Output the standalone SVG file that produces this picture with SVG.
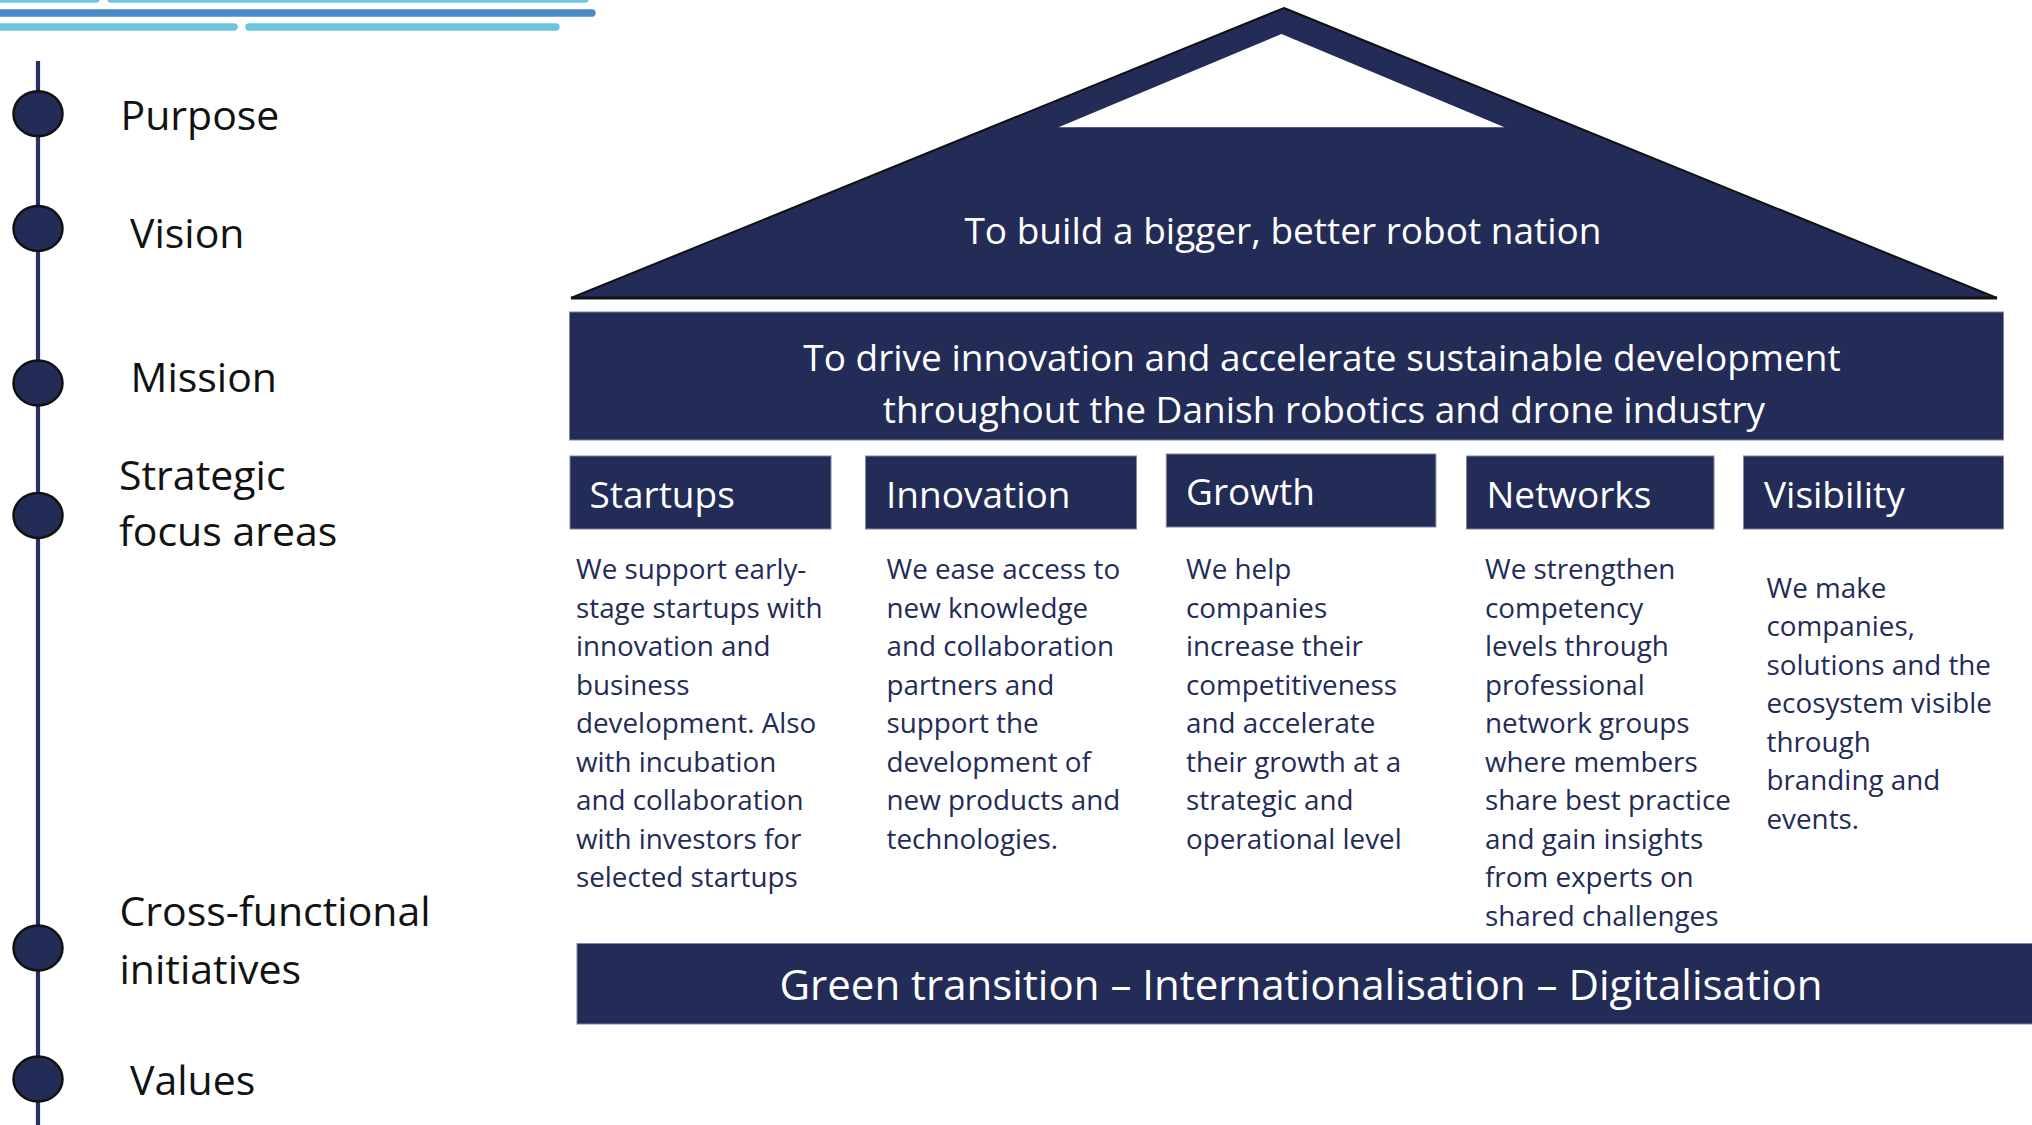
<svg xmlns="http://www.w3.org/2000/svg" width="2032" height="1125" viewBox="0 0 2032 1125">
<style>
text{font-family:"Open Sans","Noto Sans","Liberation Sans",sans-serif}
.lbl{font-size:41px;fill:#121212}
.box{fill:#232B57;stroke:#7f84a0;stroke-width:1}
.hdr{font-size:37px;fill:#ffffff}
.big{font-size:37px;fill:#ffffff}
.desc{font-size:27.8px;fill:#232B57}
.dot{fill:#232B57;stroke:#111111;stroke-width:2.5}
.deco1{stroke:#6cc6e0;stroke-width:7.4;stroke-linecap:round}
.deco2{stroke:#4a8ac8;stroke-width:7.4;stroke-linecap:round}
</style>
<rect width="2032" height="1125" fill="#ffffff"/>
<g id="decoration">
<line class="deco1" x1="-10" y1="-1" x2="96" y2="-1"/>
<line class="deco1" x1="111" y1="-1" x2="585" y2="-1"/>
<line class="deco2" x1="-10" y1="13" x2="592" y2="13"/>
<line class="deco1" x1="-10" y1="27" x2="234" y2="27"/>
<line class="deco1" x1="249" y1="27" x2="556" y2="27"/>
</g>
<g id="connectors">
<line x1="38" y1="61" x2="38" y2="1125" stroke="#283262" stroke-width="4.2"/>
</g>
<g id="purpose">
<ellipse class="dot" cx="38" cy="113.7" rx="24.5" ry="22.5"/>
<text class="lbl" x="120.5" y="130">Purpose</text>
</g>
<g id="vision">
<ellipse class="dot" cx="38" cy="228.5" rx="24.5" ry="22.5"/>
<text class="lbl" x="130" y="248">Vision</text>
</g>
<g id="mission">
<ellipse class="dot" cx="38" cy="383" rx="24.5" ry="22.5"/>
<text class="lbl" x="130.5" y="392">Mission</text>
</g>
<g id="strategic">
<ellipse class="dot" cx="38" cy="515.5" rx="24.5" ry="22.5"/>
<text class="lbl" x="119" y="489.5">Strategic</text>
<text class="lbl" x="119" y="546">focus areas</text>
</g>
<g id="crossfunctional">
<ellipse class="dot" cx="38" cy="948" rx="24.5" ry="22.5"/>
<text class="lbl" x="119.5" y="926">Cross-functional</text>
<text class="lbl" x="119.5" y="983.5">initiatives</text>
</g>
<g id="values">
<ellipse class="dot" cx="38" cy="1079" rx="24.5" ry="22.5"/>
<text class="lbl" x="130" y="1095">Values</text>
</g>
<g id="roof">
<polygon points="1284,8 1997,298 571,298" fill="#232B57" stroke="#111111" stroke-width="2" stroke-linejoin="miter"/>
<line x1="571" y1="298" x2="1997" y2="298" stroke="#111111" stroke-width="3"/>
<polygon points="1281.5,34 1504.5,127.3 1058.5,127.3" fill="#ffffff"/>
<text class="big" x="1283" y="243.5" text-anchor="middle">To build a bigger, better robot nation</text>
</g>
<g id="missionbar">
<rect class="box" x="569.5" y="312" width="1434" height="128"/>
<text class="big" x="1322" y="371" text-anchor="middle">To drive innovation and accelerate sustainable development</text>
<text class="big" x="1324" y="422.5" text-anchor="middle">throughout the Danish robotics and drone industry</text>
</g>
<g id="startups">
<rect class="box" x="570" y="456" width="261" height="73"/>
<text class="hdr" x="589.5" y="507.5">Startups</text>
<text class="desc"><tspan x="576" y="579.3">We support early-</tspan><tspan x="576" dy="38.5">stage startups with</tspan><tspan x="576" dy="38.5">innovation and</tspan><tspan x="576" dy="38.5">business</tspan><tspan x="576" dy="38.5">development. Also</tspan><tspan x="576" dy="38.5">with incubation</tspan><tspan x="576" dy="38.5">and collaboration</tspan><tspan x="576" dy="38.5">with investors for</tspan><tspan x="576" dy="38.5">selected startups</tspan></text>
</g>
<g id="innovation">
<rect class="box" x="865.5" y="456" width="271" height="73"/>
<text class="hdr" x="886" y="507.5">Innovation</text>
<text class="desc"><tspan x="886.5" y="579.3">We ease access to</tspan><tspan x="886.5" dy="38.5">new knowledge</tspan><tspan x="886.5" dy="38.5">and collaboration</tspan><tspan x="886.5" dy="38.5">partners and</tspan><tspan x="886.5" dy="38.5">support the</tspan><tspan x="886.5" dy="38.5">development of</tspan><tspan x="886.5" dy="38.5">new products and</tspan><tspan x="886.5" dy="38.5">technologies.</tspan></text>
</g>
<g id="growth">
<rect class="box" x="1166.3" y="454" width="269.6" height="73"/>
<text class="hdr" x="1186" y="505">Growth</text>
<text class="desc"><tspan x="1186" y="579.3">We help</tspan><tspan x="1186" dy="38.5">companies</tspan><tspan x="1186" dy="38.5">increase their</tspan><tspan x="1186" dy="38.5">competitiveness</tspan><tspan x="1186" dy="38.5">and accelerate</tspan><tspan x="1186" dy="38.5">their growth at a</tspan><tspan x="1186" dy="38.5">strategic and</tspan><tspan x="1186" dy="38.5">operational level</tspan></text>
</g>
<g id="networks">
<rect class="box" x="1466.5" y="456" width="247.5" height="73"/>
<text class="hdr" x="1486.5" y="507.5">Networks</text>
<text class="desc"><tspan x="1485" y="579.3">We strengthen</tspan><tspan x="1485" dy="38.5">competency</tspan><tspan x="1485" dy="38.5">levels through</tspan><tspan x="1485" dy="38.5">professional</tspan><tspan x="1485" dy="38.5">network groups</tspan><tspan x="1485" dy="38.5">where members</tspan><tspan x="1485" dy="38.5">share best practice</tspan><tspan x="1485" dy="38.5">and gain insights</tspan><tspan x="1485" dy="38.5">from experts on</tspan><tspan x="1485" dy="38.5">shared challenges</tspan></text>
</g>
<g id="visibility">
<rect class="box" x="1743.5" y="456" width="260" height="73"/>
<text class="hdr" x="1764" y="507.5">Visibility</text>
<text class="desc"><tspan x="1766.5" y="597.5">We make</tspan><tspan x="1766.5" dy="38.5">companies,</tspan><tspan x="1766.5" dy="38.5">solutions and the</tspan><tspan x="1766.5" dy="38.5">ecosystem visible</tspan><tspan x="1766.5" dy="38.5">through</tspan><tspan x="1766.5" dy="38.5">branding and</tspan><tspan x="1766.5" dy="38.5">events.</tspan></text>
</g>
<g id="crossbar">
<rect class="box" x="577" y="943.5" width="1460" height="80.5"/>
<text x="1301" y="999.5" text-anchor="middle" font-size="42" fill="#ffffff">Green transition – Internationalisation – Digitalisation</text>
</g>
</svg>
